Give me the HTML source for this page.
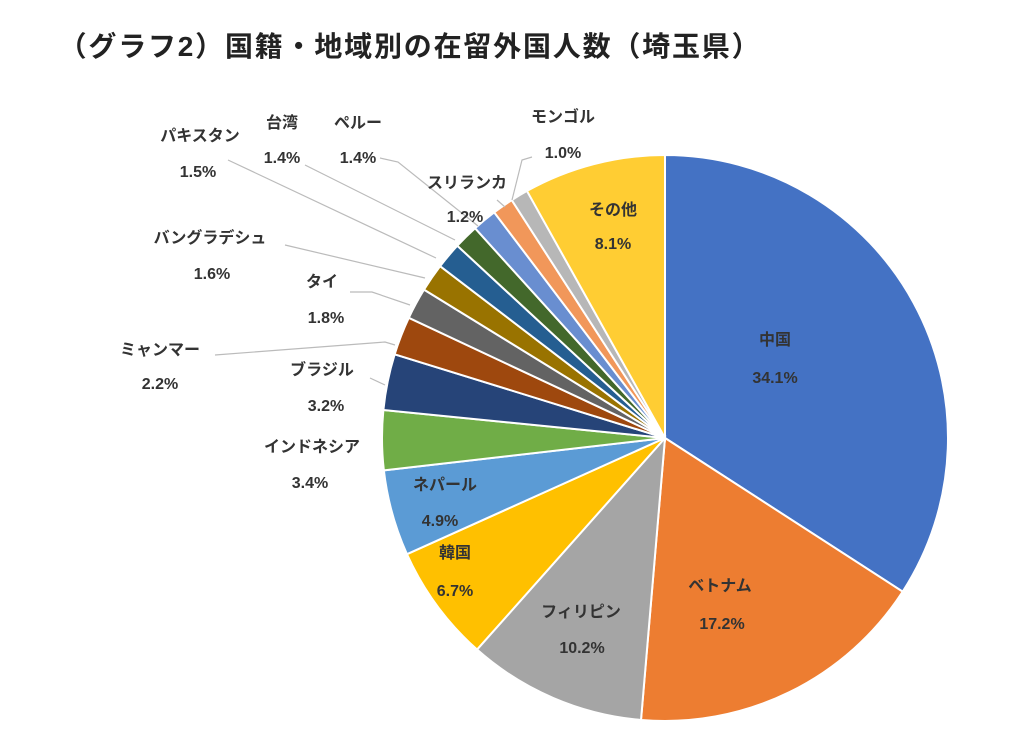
<!DOCTYPE html>
<html><head><meta charset="utf-8">
<style>
body{margin:0;background:#fff;width:1024px;height:748px;overflow:hidden}
svg text{font-family:"Liberation Sans","Noto Sans CJK JP",sans-serif;font-weight:bold;fill:#333;font-size:16px;text-anchor:middle}
</style></head><body>
<svg id="s" width="1024" height="748" xmlns="http://www.w3.org/2000/svg">
<text x="410" y="56" style="font-size:28px;fill:#222;letter-spacing:1.8px">（グラフ2）国籍・地域別の在留外国人数（埼玉県）</text>
<g id="pie"></g>
<g stroke="#bbb" stroke-width="1.2" fill="none">
<polyline points="228,160 436,258"/>
<polyline points="305,165 455,240"/>
<polyline points="380,158 398,162 478,226"/>
<polyline points="497,200 505,207"/>
<polyline points="532,157 522,160 512,200"/>
<polyline points="285,245 425,278"/>
<polyline points="350,292 372,292 410,305"/>
<polyline points="215,355 385,342 395,345"/>
<polyline points="370,378 385,385"/>
</g>
<g>
<text x="200" y="141">パキスタン</text><text x="198" y="177">1.5%</text>
<text x="282" y="128">台湾</text><text x="282" y="163">1.4%</text>
<text x="358" y="128">ペルー</text><text x="358" y="163">1.4%</text>
<text x="563" y="122">モンゴル</text><text x="563" y="158">1.0%</text>
<text x="467" y="188">スリランカ</text><text x="465" y="222">1.2%</text>
<text x="613" y="215">その他</text><text x="613" y="249">8.1%</text>
<text x="210" y="243">バングラデシュ</text><text x="212" y="279">1.6%</text>
<text x="322" y="287">タイ</text><text x="326" y="323">1.8%</text>
<text x="160" y="355">ミャンマー</text><text x="160" y="389">2.2%</text>
<text x="322" y="375">ブラジル</text><text x="326" y="411">3.2%</text>
<text x="312" y="452">インドネシア</text><text x="310" y="488">3.4%</text>
<text x="445" y="490">ネパール</text><text x="440" y="526">4.9%</text>
<text x="455" y="558">韓国</text><text x="455" y="596">6.7%</text>
<text x="581" y="617">フィリピン</text><text x="582" y="653">10.2%</text>
<text x="720" y="591">ベトナム</text><text x="722" y="629">17.2%</text>
<text x="775" y="345">中国</text><text x="775" y="383">34.1%</text>
</g>
</svg>
<script>
var d=[[34.1,"#4472C4"],[17.2,"#ED7D31"],[10.2,"#A5A5A5"],[6.7,"#FFC000"],[4.9,"#5B9BD5"],[3.4,"#70AD47"],[3.2,"#264478"],[2.2,"#9E480E"],[1.8,"#636363"],[1.6,"#997300"],[1.5,"#255E91"],[1.4,"#43682B"],[1.4,"#698ED0"],[1.2,"#F1975A"],[1.0,"#B7B7B7"],[8.1,"#FFCD33"]];
var cx=665,cy=438,r=283,tot=99.9,a=0,g=document.getElementById("pie"),h="";
d.forEach(function(e){var a0=a/tot*2*Math.PI,a1=(a+e[0])/tot*2*Math.PI;a+=e[0];
var x0=cx+r*Math.sin(a0),y0=cy-r*Math.cos(a0),x1=cx+r*Math.sin(a1),y1=cy-r*Math.cos(a1);
h+='<path d="M'+cx+','+cy+'L'+x0+','+y0+'A'+r+','+r+' 0 '+((a1-a0)>Math.PI?1:0)+' 1 '+x1+','+y1+'Z" fill="'+e[1]+'" stroke="#fff" stroke-width="2"/>';});
g.innerHTML=h;
</script>
</body></html>
